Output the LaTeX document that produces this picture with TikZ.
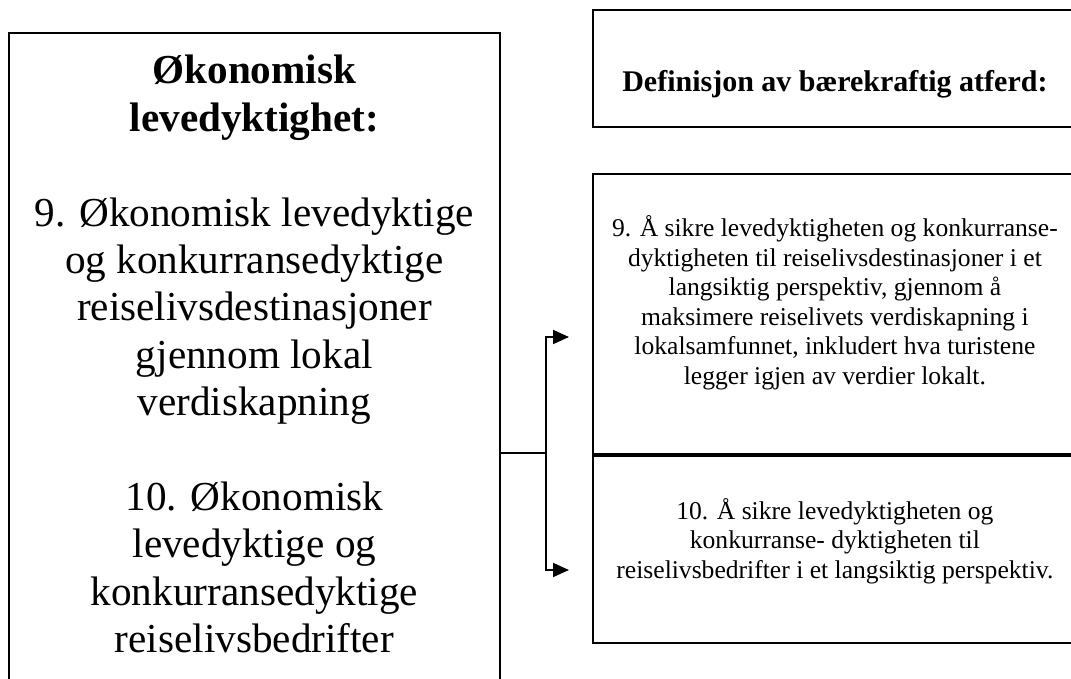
\documentclass[tikz,border=0pt]{standalone}
\usepackage{fontspec}
\setmainfont{Liberation Serif}
\usetikzlibrary{arrows.meta,positioning}

\begin{document}
\begin{tikzpicture}[
  x=0.5pt, y=-0.5pt,
  box/.style={draw, line width=0.9pt, inner sep=0pt},
  big/.style={align=center, inner sep=0pt, font=\fontsize{20.6}{23.7}\selectfont},
  small/.style={align=center, inner sep=0pt, font=\fontsize{12.8}{14.75}\selectfont},
  arr/.style={-{Triangle[length=8pt, width=7pt]}, line width=0.9pt}
]
\useasboundingbox (0,0) rectangle (1071,679);
\clip (0,0) rectangle (1071,679);
\node[box, anchor=north west, minimum width=245.5pt, minimum height=350pt] (econ) at (8,32) {};
\node[big, anchor=north] (econtxt) at ([yshift=-11.5pt]econ.north) {\textbf{Økonomisk}\\\textbf{levedyktighet:}\\[23.7pt]
  9. Økonomisk levedyktige\\og konkurransedyktige\\reiselivsdestinasjoner\\gjennom lokal\\verdiskapning\\[23.7pt]
  10. Økonomisk\\levedyktige og\\konkurransedyktige\\reiselivsbedrifter};
\node[box, anchor=north west, minimum width=242pt, minimum height=58.5pt] (def) at (592,9) {};
\node[anchor=base, inner sep=0pt, font=\fontsize{15}{17}\selectfont\bfseries] (deftxt) at ([yshift=-41.5pt]def.north) {Definisjon av bærekraftig atferd:};
\node[box, anchor=north west, minimum width=242pt, minimum height=140pt] (goal9) at (592,173) {};
\node[box, below=0pt of goal9, minimum width=242pt, minimum height=93.5pt] (goal10) {};
\node[small] (goal9txt) at ([yshift=5.5pt]goal9.center) {9. Å sikre levedyktigheten og konkurranse-\\dyktigheten til reiselivsdestinasjoner i et\\langsiktig perspektiv, gjennom å\\maksimere reiselivets verdiskapning i\\lokalsamfunnet, inkludert hva turistene\\legger igjen av verdier lokalt.};
\node[small] (goal10txt) at ([yshift=4pt]goal10.center) {10. Å sikre levedyktigheten og\\konkurranse- dyktigheten til\\reiselivsbedrifter i et langsiktig perspektiv.};
\coordinate (split) at (545.7,453);
\coordinate (tip9) at (569,337);
\coordinate (tip10) at (569,570);
\draw[line width=0.9pt] (econ.east |- split) -- (split);
\draw[arr] (split) |- (tip9);
\draw[arr] (split) |- (tip10);
\end{tikzpicture}
\end{document}
